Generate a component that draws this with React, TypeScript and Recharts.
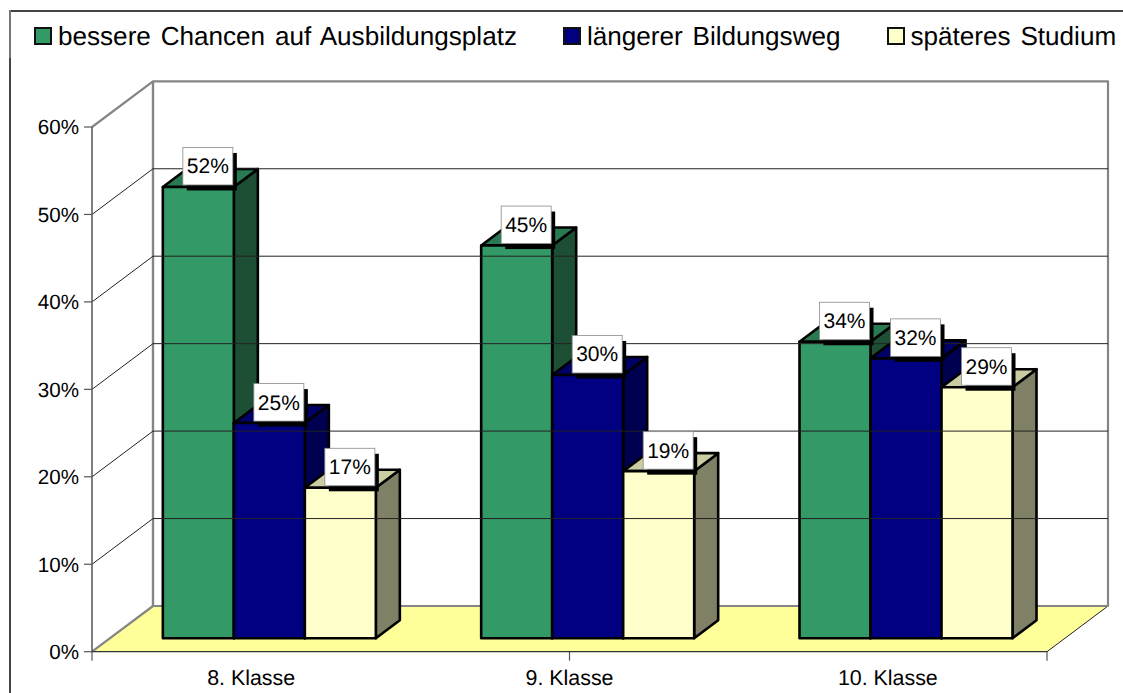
import React from "react";
import {
  BarChart,
  Bar,
  XAxis,
  YAxis,
  Legend,
  LabelList,
  ReferenceArea,
  ReferenceLine,
} from "recharts";

// values, in percent
const classes = ["8. Klasse", "9. Klasse", "10. Klasse"];
const chancen = [51.6, 44.9, 33.9];
const bildungsweg = [24.6, 30.1, 32.0];
const studium = [17.2, 19.1, 28.7];
const percentTicks = [0, 10, 20, 30, 40, 50, 60];
const categoryEdges = [0, 1, 2, 3];

const seriesNames = {
  chancen: "bessere Chancen auf Ausbildungsplatz",
  bildungsweg: "längerer Bildungsweg",
  studium: "späteres Studium",
};

const rows = classes.map((name, i) => ({
  name,
  chancen: chancen[i],
  bildungsweg: bildungsweg[i],
  studium: studium[i],
}));

const FONT = '"Liberation Sans", Arial, sans-serif';
// depth of the whole box and of one bar, and how far the bars sit from the front edge
const WALL_X = 61;
const WALL_Y = 45.7;
const BAR_X = 24;
const BAR_Y = 18;
const INSET_X = 18;
const INSET_Y = 13.5;

const GREEN = { front: "#339966", side: "#1C4F34", top: "#297A52" };
const BLUE = { front: "#000080", side: "#000050", top: "#000066" };
const CREAM = { front: "#FFFFCC", side: "#808066", top: "#CCCCA3" };

function Walls(props: any) {
  const { x, y, width, height } = props;
  const bottom = y + height;
  const right = x + width;
  return (
    <g>
      <polygon
        points={`${x},${bottom} ${x + WALL_X},${bottom - WALL_Y} ${right + WALL_X},${bottom - WALL_Y} ${right},${bottom}`}
        fill="#FFFF99"
      />
      <line x1={right} y1={bottom} x2={right + WALL_X} y2={bottom - WALL_Y} stroke="#222" strokeWidth={1} />
      <polyline
        points={`${x},${y} ${x + WALL_X},${y - WALL_Y} ${right + WALL_X},${y - WALL_Y} ${right + WALL_X},${bottom - WALL_Y} ${x + WALL_X},${bottom - WALL_Y} ${x},${bottom}`}
        fill="none"
        stroke="#858585"
        strokeWidth={2.2}
        strokeLinejoin="round"
      />
      <line x1={x + WALL_X} y1={y - WALL_Y} x2={x + WALL_X} y2={bottom - WALL_Y} stroke="#858585" strokeWidth={2.4} />
    </g>
  );
}

function WallGridLine(props: any) {
  const { x1, x2, y1 } = props;
  return (
    <polyline
      points={`${x1},${y1} ${x1 + WALL_X},${y1 - WALL_Y} ${x2 + WALL_X},${y1 - WALL_Y}`}
      fill="none"
      stroke="#222"
      strokeWidth={1}
    />
  );
}

function EdgeTick(props: any) {
  const { x1, y1, y2 } = props;
  return <line x1={x1} x2={x1} y1={Math.max(y1, y2)} y2={Math.max(y1, y2) + 9} stroke="#555" strokeWidth={1.2} />;
}

function Box3D(props: any) {
  const { x, y, width, height, tone } = props;
  const left = x + INSET_X;
  const top = y - INSET_Y;
  const right = left + width;
  const bottom = top + height;
  const line = { stroke: "#000", strokeWidth: 2.6, strokeLinejoin: "round" as const };
  return (
    <g>
      <polygon
        points={`${right},${top} ${right + BAR_X},${top - BAR_Y} ${right + BAR_X},${bottom - BAR_Y} ${right},${bottom}`}
        fill={tone.side}
        {...line}
      />
      <polygon
        points={`${left},${top} ${left + BAR_X},${top - BAR_Y} ${right + BAR_X},${top - BAR_Y} ${right},${top}`}
        fill={tone.top}
        {...line}
      />
      <rect x={left} y={top} width={width} height={height} fill={tone.front} {...line} />
    </g>
  );
}

function ValueBox(props: any) {
  const { x, y, width, value } = props;
  const cx = x + INSET_X + width / 2 + 9.5;
  const cy = y - INSET_Y - 21;
  return (
    <g>
      <rect x={cx - 21} y={cy - 13} width={50} height={37.5} fill="#000" />
      <rect x={cx - 25} y={cy - 18.5} width={50} height={37.5} fill="#fff" stroke="#8a8a8a" strokeWidth={0.8} />
      <text x={cx} y={cy + 7.5} textAnchor="middle" fontFamily={FONT} fontSize={21} fill="#000">
        {`${Math.round(value)}%`}
      </text>
    </g>
  );
}

function LegendRow({ payload }: any) {
  return (
    <div
      style={{
        display: "flex",
        gap: 46,
        fontFamily: FONT,
        fontSize: 26.1,
        wordSpacing: 2.6,
        lineHeight: "30px",
        whiteSpace: "nowrap",
      }}
    >
      {(payload || []).map((item: any) => (
        <div key={item.value} style={{ display: "flex", alignItems: "center", gap: 6 }}>
          <span
            style={{
              display: "inline-block",
              width: 14,
              height: 14,
              border: "2px solid #111",
              background: item.color,
            }}
          />
          <span style={{ color: "#000" }}>{item.value}</span>
        </div>
      ))}
    </div>
  );
}

export default function App() {
  return (
    <div
      style={{
        position: "fixed",
        left: 0,
        top: 0,
        width: 1123,
        height: 693,
        background: "#fff",
        overflow: "hidden",
        textRendering: "geometricPrecision",
      }}
    >
      <div style={{ position: "absolute", left: 9, top: 10, width: 1114, height: 2, background: "#444" }} />
      <div style={{ position: "absolute", left: 9, top: 10, width: 1.5, height: 48, background: "#777" }} />
      <div style={{ position: "absolute", left: 8.5, top: 58, width: 2, height: 635, background: "#444" }} />
      <BarChart
        width={1123}
        height={693}
        data={rows}
        margin={{ top: 127, right: 76, bottom: 5.3, left: 12 }}
        barCategoryGap="16.6%"
        barGap={0}
        style={{ position: "absolute", left: 0, top: 0 }}
      >
        <ReferenceArea y1={0} y2={60} shape={Walls} />
        {percentTicks.slice(1, -1).map((t) => (
          <ReferenceLine key={t} y={t} shape={WallGridLine} />
        ))}
        {categoryEdges.map((e) => (
          <ReferenceLine key={e} x={e} xAxisId="edges" shape={EdgeTick} />
        ))}
        <XAxis
          dataKey="name"
          height={36}
          tickLine={false}
          tickSize={0}
          tickMargin={18}
          axisLine={{ stroke: "#333", strokeWidth: 1.2 }}
          tick={{ fontFamily: FONT, fontSize: 21.4, fill: "#000" }}
        />
        <XAxis xAxisId="edges" type="number" domain={[0, 3]} hide />
        <YAxis
          width={80}
          domain={[0, 60]}
          ticks={percentTicks}
          interval={0}
          tickSize={8}
          tickMargin={5}
          tickFormatter={(v) => `${v}%`}
          tick={{ fontFamily: FONT, fontSize: 20.6, fill: "#000" }}
          axisLine={{ stroke: "#555", strokeWidth: 1.5 }}
          tickLine={{ stroke: "#555", strokeWidth: 1.2 }}
        />
        <Legend
          verticalAlign="middle"
          align="center"
          content={<LegendRow />}
          wrapperStyle={{ left: 34, top: 21, width: "auto" }}
        />
        <Bar
          dataKey="chancen"
          name={seriesNames.chancen}
          fill={GREEN.front}
          isAnimationActive={false}
          shape={(p: any) => <Box3D {...p} tone={GREEN} />}
        >
          <LabelList dataKey="chancen" content={ValueBox} />
        </Bar>
        <Bar
          dataKey="bildungsweg"
          name={seriesNames.bildungsweg}
          fill={BLUE.front}
          isAnimationActive={false}
          shape={(p: any) => <Box3D {...p} tone={BLUE} />}
        >
          <LabelList dataKey="bildungsweg" content={ValueBox} />
        </Bar>
        <Bar
          dataKey="studium"
          name={seriesNames.studium}
          fill={CREAM.front}
          isAnimationActive={false}
          shape={(p: any) => <Box3D {...p} tone={CREAM} />}
        >
          <LabelList dataKey="studium" content={ValueBox} />
        </Bar>
      </BarChart>
    </div>
  );
}
